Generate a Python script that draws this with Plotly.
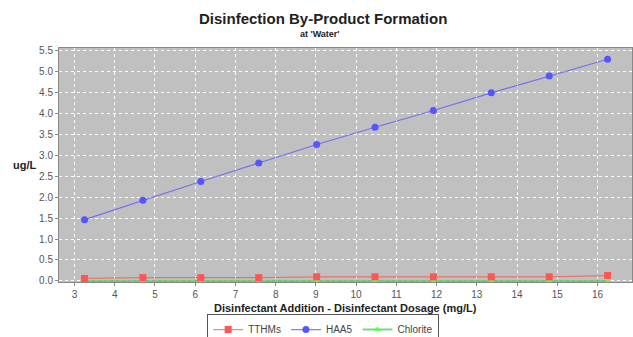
import plotly.graph_objects as go

dosage = [3.25, 4.7, 6.14, 7.58, 9.02, 10.47, 11.92, 13.36, 14.8, 16.25]
tthms = [0.06, 0.08, 0.08, 0.08, 0.10, 0.10, 0.10, 0.10, 0.10, 0.13]
haa5 = [1.46, 1.92, 2.37, 2.81, 3.25, 3.66, 4.06, 4.48, 4.88, 5.28]
chlorite = [0, 0, 0, 0, 0, 0, 0, 0, 0, 0]

title = "Disinfection By-Product Formation"
subtitle = "at 'Water'"
x_title = "Disinfectant Addition - Disinfectant Dosage (mg/L)"
y_title = "ug/L"

fig = go.Figure()
fig.add_trace(go.Scatter(x=dosage, y=chlorite, name="Chlorite", mode="lines+markers",
                         line=dict(color="rgba(85,200,85,0.75)", width=2),
                         marker=dict(symbol="triangle-up", size=6, color="#55FF55"),
                         legendrank=3))
fig.add_trace(go.Scatter(x=dosage, y=tthms, name="TTHMs", mode="lines+markers",
                         line=dict(color="rgba(255,85,85,0.75)", width=1.2),
                         marker=dict(symbol="square", size=7, color="#FF5555"),
                         legendrank=1))
fig.add_trace(go.Scatter(x=dosage, y=haa5, name="HAA5", mode="lines+markers",
                         line=dict(color="rgba(85,85,255,0.75)", width=1.2),
                         marker=dict(symbol="circle", size=7, color="#5555FF"),
                         legendrank=2))

grid = dict(showgrid=True, gridcolor="white", griddash="dot", gridwidth=1)
tickfont = dict(family="Liberation Sans Narrow, Arial Narrow, Liberation Sans", size=10, color="#555")
fig.update_xaxes(range=[2.615, 16.857], dtick=1, tick0=0, ticks="outside", ticklen=3,
                 tickcolor="#888", showline=True, linecolor="#888", linewidth=1, mirror=True,
                 tickfont=tickfont, zeroline=False, **grid)
fig.update_yaxes(range=[-0.024, 5.548], dtick=0.5, tick0=0, tickformat=".1f", ticks="outside",
                 ticklen=3, tickcolor="#888", showline=True, linecolor="#888", linewidth=1,
                 mirror=True, tickfont=tickfont, zeroline=False, **grid)

bold = dict(family="Liberation Sans, Arial", color="#222")
fig.update_layout(
    width=633, height=337,
    margin=dict(l=59, r=1, t=48, b=55, autoexpand=False),
    paper_bgcolor="white", plot_bgcolor="#C0C0C0",
    showlegend=True,
    legend=dict(orientation="h", x=0.461, xanchor="center", y=-0.137, yanchor="top",
                bordercolor="#555", borderwidth=1, bgcolor="white",
                font=dict(family="Liberation Sans Narrow, Arial Narrow, Liberation Sans", size=10, color="#444"),
                itemwidth=30, tracegroupgap=0),
    annotations=[
        dict(text="<b>" + title + "</b>", xref="paper", yref="paper", x=0.4616, y=1.128,
             showarrow=False, font=dict(size=15, **bold), xanchor="center", yanchor="middle"),
        dict(text="<b>" + subtitle + "</b>", xref="paper", yref="paper", x=0.454, y=1.06,
             showarrow=False, font=dict(size=9, **bold), xanchor="center", yanchor="middle"),
        dict(text="<b>" + x_title + "</b>", xref="paper", yref="paper", x=0.5, y=-0.112,
             showarrow=False, font=dict(size=11, **bold), xanchor="center", yanchor="middle"),
        dict(text="<b>" + y_title + "</b>", xref="paper", yref="paper", x=-0.061, y=0.5,
             showarrow=False, font=dict(size=11, **bold), xanchor="center", yanchor="middle"),
    ],
)
fig.write_html("out.html", config={"displayModeBar": False},
               post_script="document.body.style.margin='0';")
